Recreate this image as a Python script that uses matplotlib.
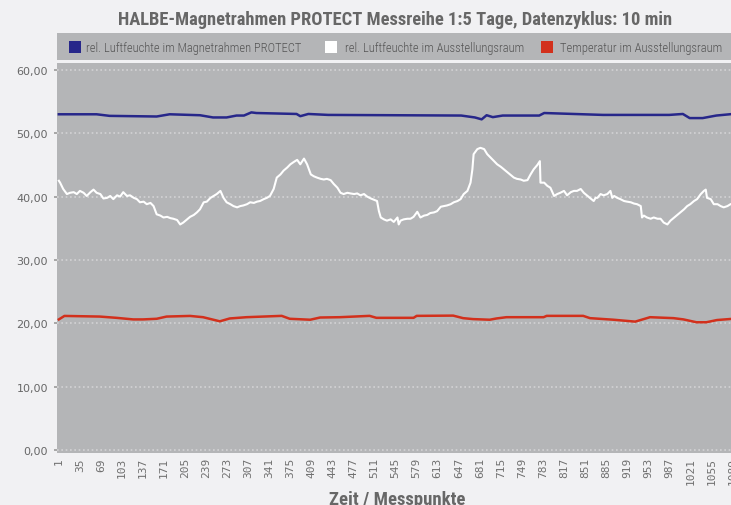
import matplotlib
matplotlib.use("Agg")
import matplotlib.pyplot as plt
from matplotlib.patches import Rectangle

# ---------------- data ----------------
title = "HALBE-Magnetrahmen PROTECT Messreihe 1:5 Tage, Datenzyklus: 10 min"
xlabel = "Zeit / Messpunkte"
series_names = ["rel. Luftfeuchte im Magnetrahmen PROTECT",
                "rel. Luftfeuchte im Ausstellungsraum",
                "Temperatur im Ausstellungsraum"]

y_ticks = [0, 10, 20, 30, 40, 50, 60]
y_tick_labels = ["0,00", "10,00", "20,00", "30,00", "40,00", "50,00", "60,00"]
x_ticks = [1, 35, 69, 103, 137, 171, 205, 239, 273, 307, 341, 375, 409, 443, 477,
           511, 545, 579, 613, 647, 681, 715, 749, 783, 817, 851, 885, 919, 953,
           987, 1021, 1055, 1089]
x_tick_labels = [str(t) for t in x_ticks]

frame_x = [1, 62, 83, 159, 180, 229, 250, 272, 288, 300, 312, 320, 385, 391, 404,
           436, 651, 673, 684, 692, 702, 718, 777, 785, 880, 987, 1009, 1020, 1041,
           1063, 1090]
frame_rh = [53.0, 53.0, 52.75, 52.65, 53.0, 52.85, 52.5, 52.5, 52.8, 52.8, 53.3, 53.2,
            53.05, 52.7, 53.05, 52.9, 52.8, 52.5, 52.2, 52.85, 52.55, 52.8, 52.8, 53.2,
            52.9, 52.9, 53.05, 52.4, 52.4, 52.8, 53.05]

room_x = [1, 3, 8, 14, 19, 25, 30, 35, 41, 46, 52, 57, 62, 68, 73, 79, 84, 89, 95, 100,
          105, 111, 116, 122, 127, 132, 138, 143, 149, 154, 159, 165, 170, 176, 181,
          186, 192, 197, 202, 208, 213, 219, 224, 229, 235, 240, 246, 251, 256, 262,
          267, 272, 278, 283, 289, 294, 299, 305, 310, 316, 321, 326, 332, 337, 342,
          348, 353, 359, 364,
          370, 375, 381, 386, 391, 397, 402, 408, 413, 418, 424, 429, 434, 440, 445,
          451, 456, 461, 467, 472, 478, 483, 488, 494, 499, 505, 510, 515, 518, 521,
          526, 531, 537, 542, 548, 550, 553, 558, 564, 569, 574, 580, 585, 591, 596,
          601, 607, 612, 618, 623, 628, 634, 639, 645, 650, 655, 661, 666, 669, 671,
          677, 682, 688, 693, 698, 704, 709, 715, 720,
          731, 736, 741, 747, 752, 758, 763, 768, 774, 778, 779, 785, 790, 795, 801,
          806, 811, 817, 822, 828, 833, 838, 844, 849, 855, 860, 865, 868, 871, 876,
          881, 887, 892, 895, 898, 903, 908, 914, 919, 925, 930, 935, 941, 943, 946,
          951, 957, 962, 968, 973, 978, 984, 989, 995, 1000, 1005, 1011, 1016, 1021,
          1027, 1032, 1038, 1043, 1046, 1048, 1054, 1059, 1065, 1070, 1075, 1081,
          1086, 1090]
room_rh = [42.5, 42.2, 41.2, 40.4, 40.6, 40.7, 40.4, 40.9, 40.6, 40.1, 40.7, 41.1, 40.6,
           40.4, 39.7, 39.8, 40.1, 39.6, 40.2, 40.0, 40.7, 40.1, 40.2, 39.8, 39.6, 39.1,
           39.2, 38.8, 39.0, 38.5, 37.2, 37.0, 36.7, 36.8, 36.6, 36.5, 36.3, 35.6, 35.9,
           36.4, 36.8, 37.1, 37.5, 38.0, 39.1, 39.2, 39.8, 40.1, 40.4, 40.9, 39.8, 39.1,
           38.8, 38.5, 38.3, 38.5, 38.6, 38.8, 39.1, 39.0, 39.2, 39.3, 39.6, 39.8, 40.1,
           41.2, 43.0, 43.5, 44.1,
           44.6, 45.1, 45.5, 45.8, 45.1, 46.0, 45.1, 43.5, 43.2, 43.0, 42.8, 42.7, 42.8,
           42.6, 42.0, 41.4, 40.6, 40.4, 40.6, 40.5, 40.4, 40.5, 40.2, 40.4, 40.0, 39.7,
           39.5, 39.3, 37.7, 36.7, 36.4, 36.2, 36.4, 36.0, 36.7, 35.6, 36.2, 36.4, 36.5,
           36.5, 36.8, 37.6, 36.7, 37.0, 37.1, 37.4, 37.5, 37.7, 38.4, 38.5, 38.6, 38.8,
           39.1, 39.3, 39.6, 40.4, 40.9, 42.2, 44.3, 46.7, 47.5, 47.7, 47.5, 46.7, 46.2,
           45.6, 45.1, 44.7, 44.3,
           43.4, 43.0, 42.8, 42.7, 42.5, 42.6, 43.5, 44.3, 45.0, 45.6, 42.2, 42.2, 41.7,
           41.4, 40.1, 40.4, 40.6, 40.9, 40.2, 40.7, 40.9, 40.9, 41.2, 40.6, 40.1, 39.7,
           39.3, 39.8, 39.8, 40.4, 40.2, 40.4, 40.9, 39.8, 40.1, 39.8, 39.6, 39.3, 39.2,
           39.1, 38.9, 38.8, 38.5, 36.7, 37.0, 36.7, 36.5, 36.7, 36.5, 36.5, 35.9, 35.6,
           36.2, 36.7, 37.1, 37.5, 38.0, 38.5, 38.8, 39.3, 39.6, 40.4, 40.9, 41.1, 39.8,
           39.6, 38.8, 38.8, 38.5, 38.3, 38.5, 38.8, 38.9]

temp_x = [1, 10, 67, 94, 121, 137, 159, 175, 213, 234, 261, 277, 304, 331, 361, 374,
          407, 423, 455, 503, 514, 574, 579, 638, 654, 670, 697, 708, 724, 784, 789,
          848, 859, 897, 932, 956, 994, 1010, 1031, 1047, 1064, 1090]
temp = [20.6, 21.15, 21.05, 20.85, 20.6, 20.6, 20.7, 21.05, 21.15, 20.95, 20.3, 20.75,
        20.95, 21.05, 21.16, 20.7, 20.55, 20.9, 20.95, 21.16, 20.85, 20.85, 21.16, 21.2,
        20.8, 20.65, 20.55, 20.75, 20.95, 20.95, 21.16, 21.16, 20.8, 20.55, 20.25, 20.95,
        20.8, 20.6, 20.15, 20.15, 20.5, 20.7]

# ---------------- style ----------------
BG = "#f1f1f3"
PLOT_BG = "#b4b5b7"
TXT = "#676767"
colors = ["#27278a", "#ffffff", "#d2301c"]
narrow = ["Roboto Condensed", "DejaVu Sans"]

W, H = 731, 506
fig = plt.figure(figsize=(W / 100, H / 100), dpi=100, facecolor=BG)

ax = fig.add_axes([57 / W, (H - 454) / H, (733 - 57) / W, 390 / H])
ax.set_facecolor(PLOT_BG)
for s in ax.spines.values():
    s.set_visible(False)

ax.plot(frame_x, frame_rh, color=colors[0], lw=1.8, zorder=3)
ax.plot(room_x, room_rh, color=colors[1], lw=1.5, zorder=3)
ax.plot(temp_x, temp, color=colors[2], lw=1.8, zorder=3)

ax.set_xlim(-2, 1090)
ax.set_ylim(-0.5, 61.1)

ax.set_yticks(y_ticks)
ax.set_yticklabels(y_tick_labels, fontsize=8, color=TXT, family="DejaVu Sans")
ax.set_xticks(x_ticks)
ax.set_xticklabels(x_tick_labels, rotation=90, fontsize=8, color="#707070",
                   family="DejaVu Sans Mono")
ax.tick_params(axis="y", length=2.5, width=1.2, color="#9a9a9a", pad=4)
ax.tick_params(axis="x", length=0, pad=3)

ax.set_axisbelow(True)
ax.yaxis.grid(True, color="#d3d3d5", lw=1.2, linestyle=(0, (1, 1.6)))
ax.xaxis.grid(False)

# title and x label
fig.text(395 / W, (H - 25) / H, title, ha="center", va="baseline", fontsize=13.3,
         fontweight="bold", color=TXT, family=narrow)
fig.text(397 / W, (H - 505) / H, xlabel, ha="center", va="baseline", fontsize=13.5,
         fontweight="bold", color=TXT, family=narrow)

# legend bar
fig.patches.append(Rectangle((57 / W, (H - 61) / H), (W - 57) / W, 27 / H,
                             transform=fig.transFigure, facecolor=PLOT_BG,
                             edgecolor="none", zorder=1))
leg_sq_x = [69, 325, 541]
leg_tx_x = [86, 345, 560]
for i, name in enumerate(series_names):
    fig.patches.append(Rectangle((leg_sq_x[i] / W, (H - 54) / H), 12 / W, 12 / H,
                                 transform=fig.transFigure, facecolor=colors[i],
                                 edgecolor="none", zorder=2))
    fig.text(leg_tx_x[i] / W, (H - 52) / H, name, ha="left", va="baseline",
             fontsize=9, fontweight="light", color="#555555", family=narrow,
             zorder=3)

fig.savefig("out.png", dpi=100, facecolor=BG)
